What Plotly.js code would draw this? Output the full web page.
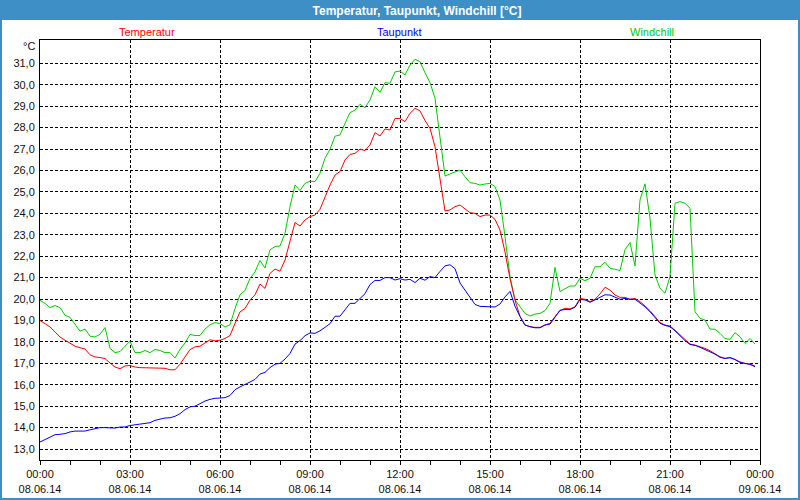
<!DOCTYPE html>
<html>
<head>
<meta charset="utf-8">
<script src="https://cdn.plot.ly/plotly-3.0.1.min.js"></script>
<style>
html,body{margin:0;padding:0;background:#fff;}
#chart{width:800px;height:500px;}
</style>
</head>
<body>
<div id="chart"></div>
<script>
// ---- data (10-minute samples, 08.06.14 00:00 .. 23:50) ----
var chartTitle = "Temperatur, Taupunkt, Windchill [°C]";
var seriesNames = ["Temperatur", "Taupunkt", "Windchill"];
var seriesColors = ["#ff0000", "#0000ff", "#00cc00"];
var startDay = "2014-06-08";
var endDay = "2014-06-09";
var sampleMinutes = 10;

var temperatur = [
  19.0, 18.86, 18.7, 18.47, 18.23, 18.08,
  17.95, 17.8, 17.73, 17.67, 17.4, 17.3,
  17.27, 17.22, 17.02, 16.83, 16.75, 16.88,
  16.9, 16.83, 16.8, 16.8, 16.77, 16.8,
  16.8, 16.77, 16.7, 16.7, 16.96, 17.33,
  17.64, 17.77, 17.8, 17.95, 18.1, 18.05,
  18.08, 18.16, 18.3, 18.86, 19.4, 19.56,
  19.95, 20.2, 20.7, 20.5, 21.2, 21.4,
  21.3, 21.82, 22.76, 23.57, 23.41, 23.69,
  23.85, 23.92, 24.19, 24.78, 25.32, 25.79,
  25.95, 26.49, 26.75, 26.8, 27.0, 26.93,
  27.19, 27.77, 27.61, 27.94, 27.89, 28.43,
  28.43, 28.28, 28.67, 28.9, 28.78, 28.33,
  27.97, 27.11, 25.56, 24.11, 24.16, 24.31,
  24.39, 24.19, 24.03, 24.0, 23.85, 23.92,
  23.92, 23.72, 23.22, 22.2, 20.95, 19.95,
  19.2, 18.79, 18.71, 18.68, 18.68, 18.79,
  18.87, 19.18, 19.46, 19.57, 19.54, 19.64,
  20.03, 19.99, 19.88, 19.99, 20.24, 20.55,
  20.42, 20.19, 20.08, 20.08, 19.99, 20.03,
  19.88, 19.68, 19.46, 19.18, 18.9, 18.79,
  18.74, 18.55, 18.32, 18.09, 17.9, 17.85,
  17.78, 17.7, 17.59, 17.46, 17.31, 17.23,
  17.28, 17.18, 17.07, 17.0, 16.97, 16.87
];

var taupunkt = [
  13.33, 13.44, 13.56, 13.67, 13.69, 13.72,
  13.8, 13.84, 13.84, 13.84, 13.9, 13.95,
  14.0, 14.0, 13.98, 13.98, 14.03, 14.03,
  14.1, 14.14, 14.18, 14.2, 14.23, 14.34,
  14.4, 14.45, 14.46, 14.53, 14.65, 14.84,
  14.97, 15.0, 15.12, 15.24, 15.32, 15.37,
  15.38, 15.4, 15.5, 15.77, 15.9, 16.0,
  16.13, 16.25, 16.5, 16.58, 16.8, 16.96,
  17.0, 17.2, 17.46, 17.9, 18.06, 18.29,
  18.42, 18.4, 18.52, 18.68, 18.85, 19.2,
  19.2, 19.5, 19.8, 19.8, 20.05, 20.25,
  20.68, 20.87, 20.87, 21.0, 21.0, 20.89,
  20.95, 20.89, 20.92, 20.77, 20.97, 20.88,
  21.05, 21.0, 21.29, 21.55, 21.6, 21.42,
  20.75, 20.4, 20.09, 19.75, 19.66, 19.65,
  19.65, 19.63, 19.77, 20.1, 20.36, 19.67,
  19.18, 18.79, 18.71, 18.66, 18.66, 18.79,
  18.83, 19.17, 19.48, 19.51, 19.51, 19.62,
  19.98, 19.96, 19.85, 19.96, 20.1, 20.2,
  20.19, 20.08, 19.99, 20.03, 19.99, 19.99,
  19.83, 19.64, 19.41, 19.15, 18.87, 18.77,
  18.71, 18.52, 18.27, 18.06, 17.88, 17.84,
  17.75, 17.65, 17.54, 17.43, 17.28, 17.23,
  17.26, 17.18, 17.04, 17.0, 16.95, 16.84
];

var windchill = [
  19.95, 19.8, 19.6, 19.7, 19.6, 19.25,
  19.15, 18.8, 18.5, 18.6, 18.27, 18.23,
  18.36, 18.67, 17.7, 17.5, 17.55, 17.8,
  18.03, 17.5, 17.5, 17.6, 17.5, 17.65,
  17.6, 17.5, 17.5, 17.25, 17.65, 17.95,
  18.35, 18.3, 18.3, 18.6, 18.8, 18.9,
  18.86, 18.7, 18.8, 19.55, 20.2, 20.4,
  20.96, 21.27, 21.8, 21.45, 22.3, 22.45,
  22.48, 23.07, 24.31, 25.32, 25.06, 25.4,
  25.5, 25.48, 25.87, 26.57, 26.99, 27.6,
  27.66, 28.2, 28.7, 28.82, 29.09, 28.93,
  29.29, 29.91, 29.65, 30.1, 30.07, 30.6,
  30.64, 30.46, 30.92, 31.19, 31.08, 30.56,
  30.1, 29.37, 27.42, 25.74, 25.84, 25.93,
  26.02, 25.71, 25.43, 25.4, 25.32, 25.37,
  25.4, 25.25, 24.62, 22.91, 21.05, 19.96,
  19.66, 19.33, 19.21, 19.3, 19.33, 19.46,
  19.8, 21.48, 20.35, 20.5, 20.61, 20.61,
  20.97, 20.86, 20.97, 21.51, 21.51, 21.72,
  21.44, 21.39, 21.33, 22.3, 22.64, 21.55,
  24.63, 25.38, 23.77, 21.12, 20.5, 20.27,
  21.05, 24.47, 24.55, 24.47, 24.24, 19.41,
  19.1, 19.02, 18.6, 18.59, 18.4, 18.16,
  18.12, 18.43, 18.24, 17.93, 18.16, 17.9
];

var yTicks = [13,14,15,16,17,18,19,20,21,22,23,24,25,26,27,28,29,30,31];
var yUnit = "°C";

// sample times
function pad(n){ return (n < 10 ? "0" : "") + n; }
var times = temperatur.map(function(_, i){
  var m = i * sampleMinutes;
  return startDay + " " + pad(Math.floor(m / 60)) + ":" + pad(m % 60);
});

var BLUE = "#3d8fc5";
var fontFam = "Liberation Sans, Arial, sans-serif";

var traces = [
  {x: times, y: windchill, name: seriesNames[2], type: "scatter", mode: "lines",
   line: {color: seriesColors[2], width: 1}},
  {x: times, y: temperatur, name: seriesNames[0], type: "scatter", mode: "lines",
   line: {color: seriesColors[0], width: 1}},
  {x: times, y: taupunkt, name: seriesNames[1], type: "scatter", mode: "lines",
   line: {color: seriesColors[1], width: 1}}
];

// plot area: x 40..760, y 40..460 (px)
var W = 800, H = 500, L = 40, R = 40, T = 40, B = 40;
var pw = W - L - R, ph = H - T - B;
function px(xp){ return (xp - L) / pw; }
function py(yp){ return (H - B - yp) / ph; }

var legendX = [147, 399, 652];
var annotations = seriesNames.map(function(n, i){
  return {text: n, xref: "paper", yref: "paper", x: px(legendX[i]), y: py(32),
          xanchor: "center", yanchor: "middle", showarrow: false,
          font: {family: fontFam, size: 11, color: seriesColors[i]}};
});
annotations.push({text: yUnit, xref: "paper", yref: "paper", x: px(37), y: py(46),
  xanchor: "right", yanchor: "middle", showarrow: false,
  font: {family: fontFam, size: 11, color: "#111"}});

var layout = {
  width: W, height: H,
  margin: {l: L, r: R, t: T, b: B, pad: 0},
  paper_bgcolor: "#ffffff", plot_bgcolor: "#ffffff",
  showlegend: false, hovermode: false,
  separators: ",.",
  title: {text: chartTitle, xref: "container", yref: "container",
          x: 417 / W, y: 1 - 10.5 / H, xanchor: "center", yanchor: "middle",
          font: {family: fontFam, size: 12, color: "#ffffff", weight: "bold"}},
  xaxis: {
    type: "date", range: [startDay + " 00:00", endDay + " 00:00"],
    tick0: startDay + " 00:00", dtick: 3 * 3600000,
    tickformat: "%H:%M<br>%d.%m.%y",
    ticks: "outside", ticklen: 4, tickcolor: "#000", tickwidth: 1,
    minor: {dtick: 3600000, ticks: "outside", ticklen: 4, tickcolor: "#000", showgrid: false},
    showgrid: true, gridcolor: "#000", gridwidth: 1, griddash: "3px,2px",
    showline: true, linecolor: "#000", linewidth: 1, mirror: true,
    zeroline: false,
    tickfont: {family: fontFam, size: 11, color: "#111"}
  },
  yaxis: {
    range: [12.49, 32.09], tickvals: yTicks, tickformat: ".1f",
    ticks: "", showgrid: true, gridcolor: "#000", gridwidth: 1, griddash: "3px,2px",
    showline: true, linecolor: "#000", linewidth: 1, mirror: true,
    zeroline: false, ticklabelstandoff: 2,
    tickfont: {family: fontFam, size: 11, color: "#111"}
  },
  shapes: [
    {type: "rect", xref: "paper", yref: "paper", layer: "below",
     x0: px(0), x1: px(W), y0: py(20), y1: py(0),
     fillcolor: BLUE, line: {width: 0}},
    {type: "rect", xref: "paper", yref: "paper", layer: "above",
     x0: px(1), x1: px(W - 1), y0: py(H - 1), y1: py(1),
     fillcolor: "rgba(0,0,0,0)", line: {color: BLUE, width: 2}}
  ],
  annotations: annotations
};

Plotly.newPlot("chart", traces, layout, {staticPlot: true, displayModeBar: false});
</script>
</body>
</html>
